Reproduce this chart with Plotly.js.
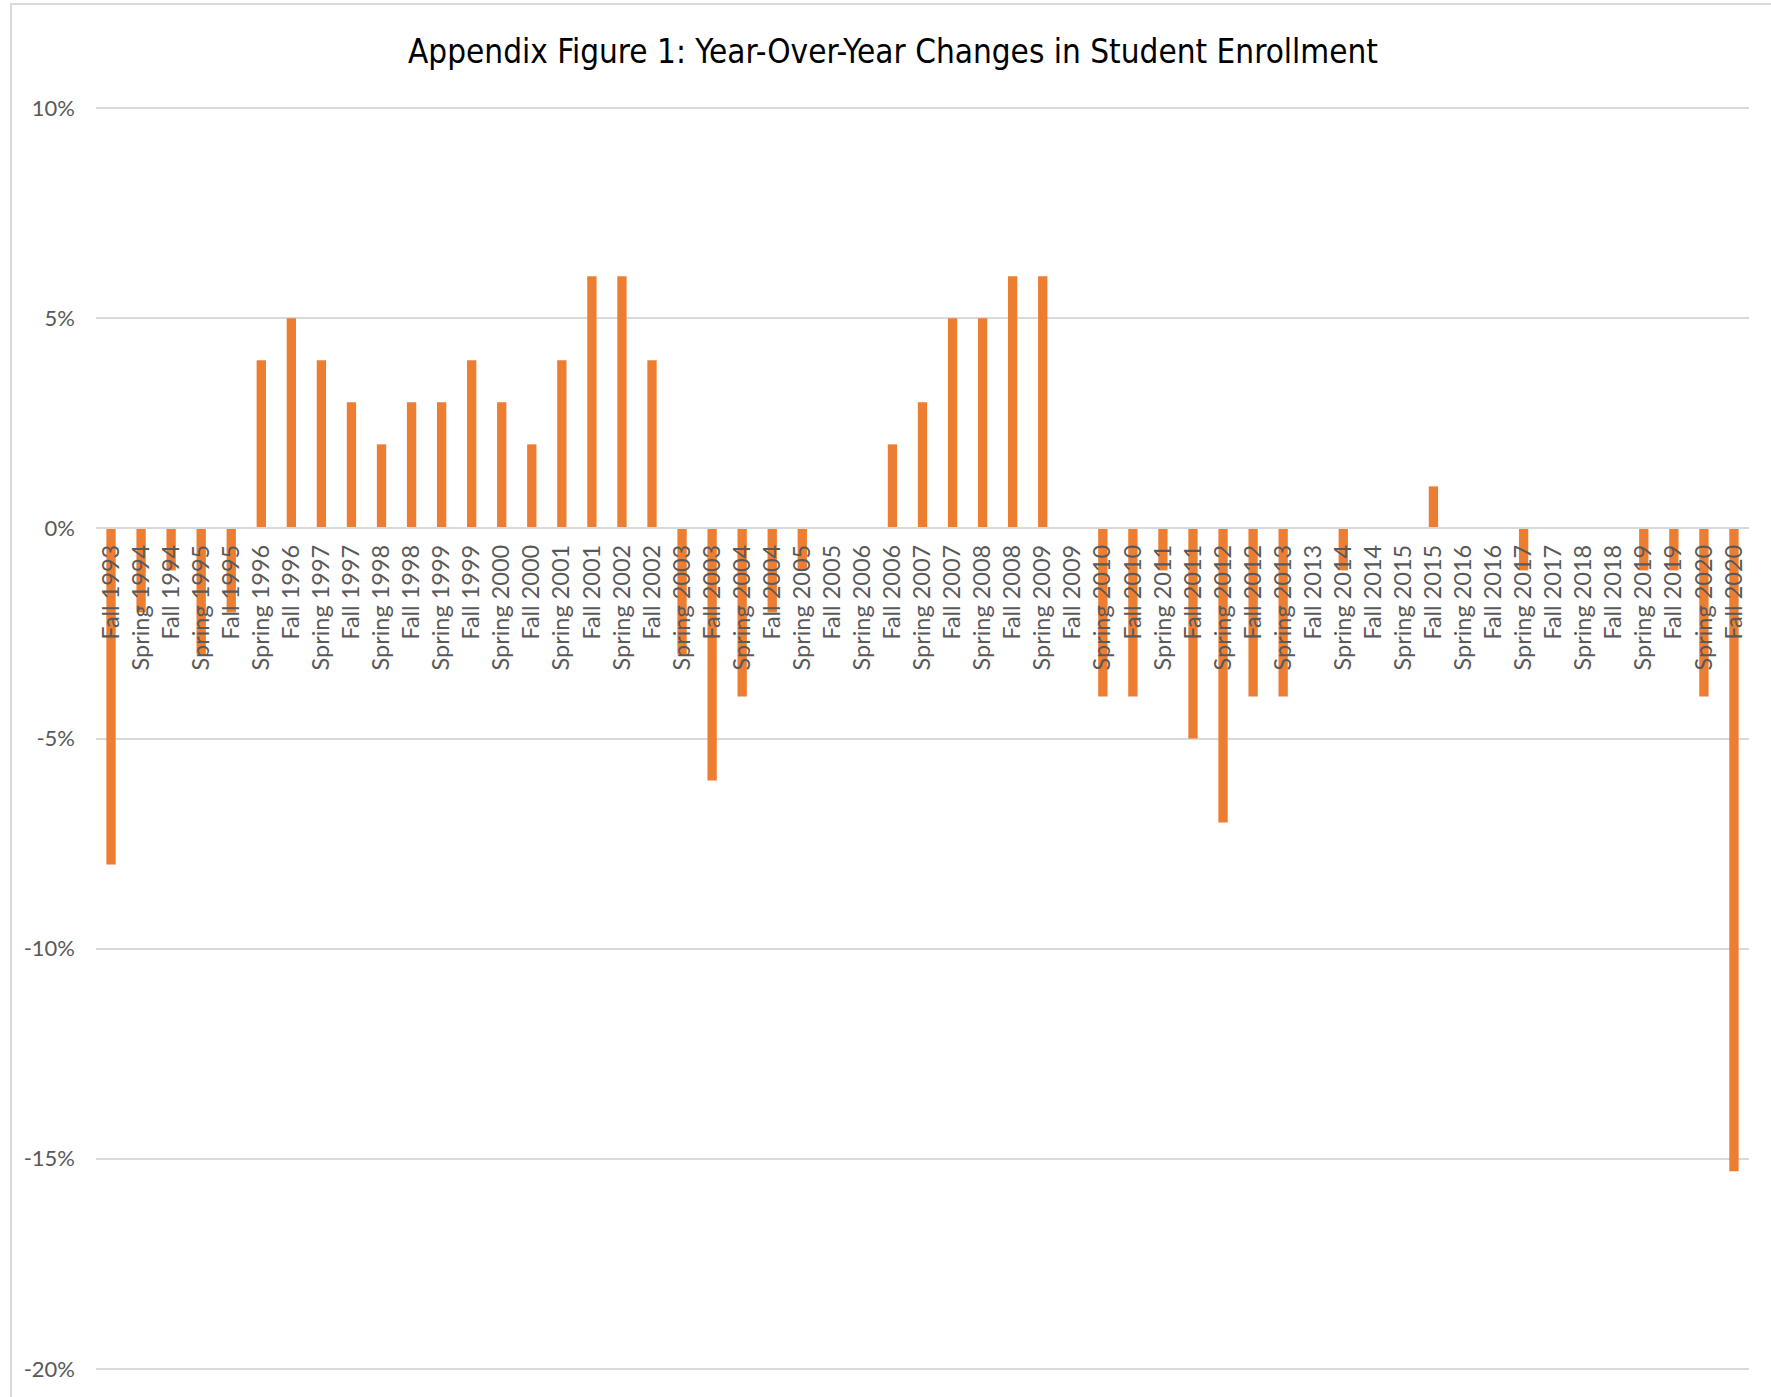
<!DOCTYPE html>
<html>
<head>
<meta charset="utf-8">
<script src="https://cdn.plot.ly/plotly-3.0.1.min.js"></script>
<style>
  html, body { margin: 0; padding: 0; background: #ffffff; overflow: hidden; }
  #chart { position: absolute; left: 0; top: 0; width: 1771px; height: 1397px; }
  #frame { position: absolute; left: 10px; top: 3px; width: 1800px; height: 1500px;
           border: 2px solid #d9d9d9; box-sizing: border-box; pointer-events: none; }
</style>
</head>
<body>
<div id="chart"></div>
<div id="frame"></div>
<script>
// ---- data ----
const categories = [
  "Fall 1993", "Spring 1994", "Fall 1994", "Spring 1995", "Fall 1995",
  "Spring 1996", "Fall 1996", "Spring 1997", "Fall 1997", "Spring 1998",
  "Fall 1998", "Spring 1999", "Fall 1999", "Spring 2000", "Fall 2000",
  "Spring 2001", "Fall 2001", "Spring 2002", "Fall 2002", "Spring 2003",
  "Fall 2003", "Spring 2004", "Fall 2004", "Spring 2005", "Fall 2005",
  "Spring 2006", "Fall 2006", "Spring 2007", "Fall 2007", "Spring 2008",
  "Fall 2008", "Spring 2009", "Fall 2009", "Spring 2010", "Fall 2010",
  "Spring 2011", "Fall 2011", "Spring 2012", "Fall 2012", "Spring 2013",
  "Fall 2013", "Spring 2014", "Fall 2014", "Spring 2015", "Fall 2015",
  "Spring 2016", "Fall 2016", "Spring 2017", "Fall 2017", "Spring 2018",
  "Fall 2018", "Spring 2019", "Fall 2019", "Spring 2020", "Fall 2020"
];
// year-over-year change, percent
const changePct = [
  -8, -2, -1, -3, -2,
   4,  5,  4,  3,  2,
   3,  3,  4,  3,  2,
   4,  6,  6,  4, -3,
  -6, -4, -2, -1,  0,
   0,  2,  3,  5,  5,
   6,  6,  0, -4, -4,
  -1, -5, -7, -4, -4,
   0, -1,  0,  0,  1,
   0,  0, -1,  0,  0,
   0, -1, -1, -4, -15.3
];
const yTickVals = [-20, -15, -10, -5, 0, 5, 10];
const yTickText = ["-20%", "-15%", "-10%", "-5%", "0%", "5%", "10%"];
const chartTitle = "Appendix Figure 1: Year-Over-Year Changes in Student Enrollment";

// ---- chart ----
const pad = 0.1; // small range padding so the edge gridlines are drawn
const yMin = yTickVals[0] - pad, yMax = yTickVals[yTickVals.length - 1] + pad;
const axisFont = "Lato, 'Open Sans', sans-serif";
const titleFont = "'Liberation Sans Narrow', 'DejaVu Sans Condensed', Lato, sans-serif";

const trace = {
  type: "bar",
  x: categories,
  y: changePct,
  marker: { color: "#ED7D31" },
  hoverinfo: "x+y",
  cliponaxis: false
};

const layout = {
  width: 1771,
  height: 1397,
  paper_bgcolor: "rgba(0,0,0,0)",
  plot_bgcolor: "rgba(0,0,0,0)",
  margin: { l: 96, r: 22, t: 104, b: 24, pad: 0 },
  showlegend: false,
  bargap: 0.69,
  title: {
    text: chartTitle,
    font: { family: titleFont, size: 33, color: "#000000" },
    x: 893 / 1771, xref: "container", xanchor: "center",
    y: 1 - 51 / 1397, yref: "container", yanchor: "middle"
  },
  xaxis: {
    type: "category",
    anchor: "free",
    position: (0 - yMin) / (yMax - yMin),
    showline: true,
    linecolor: "#d9d9d9",
    linewidth: 2,
    showgrid: false,
    zeroline: false,
    ticks: "",
    tickangle: -90,
    ticklabelstandoff: 6,
    tickfont: { family: axisFont, size: 23.5, color: "#595959" },
    automargin: false,
    fixedrange: true
  },
  yaxis: {
    range: [yMin, yMax],
    tickmode: "array",
    tickvals: yTickVals,
    ticktext: yTickText,
    showgrid: true,
    gridcolor: "#d9d9d9",
    gridwidth: 2,
    zeroline: false,
    showline: false,
    ticks: "",
    ticklabelstandoff: 20,
    tickfont: { family: axisFont, size: 22, color: "#595959" },
    automargin: false,
    fixedrange: true
  }
};

Plotly.newPlot("chart", [trace], layout, { displayModeBar: false, staticPlot: true });
</script>
</body>
</html>
